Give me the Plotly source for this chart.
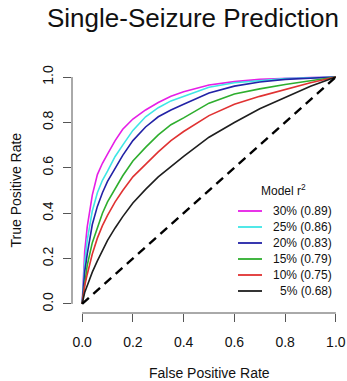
import plotly.graph_objects as go

# ---- data ----
fpr = [0, 0.01, 0.02, 0.04, 0.06, 0.08, 0.10, 0.13, 0.16, 0.20, 0.25, 0.30,
       0.35, 0.40, 0.50, 0.60, 0.70, 0.80, 0.90, 1.0]

tpr_30 = [0, 0.23, 0.34, 0.48, 0.57, 0.62, 0.66, 0.72, 0.77, 0.815, 0.855, 0.888,
          0.915, 0.935, 0.965, 0.98, 0.99, 0.995, 0.998, 1.0]
tpr_25 = [0, 0.18, 0.28, 0.41, 0.49, 0.545, 0.585, 0.65, 0.70, 0.765, 0.825, 0.865,
          0.895, 0.915, 0.955, 0.975, 0.985, 0.993, 0.997, 1.0]
tpr_20 = [0, 0.14, 0.22, 0.35, 0.43, 0.49, 0.54, 0.60, 0.655, 0.72, 0.78, 0.825,
          0.855, 0.88, 0.93, 0.96, 0.978, 0.99, 0.996, 1.0]
tpr_15 = [0, 0.10, 0.17, 0.27, 0.34, 0.40, 0.45, 0.51, 0.565, 0.63, 0.69, 0.745,
          0.79, 0.82, 0.885, 0.925, 0.948, 0.967, 0.985, 1.0]
tpr_10 = [0, 0.08, 0.13, 0.22, 0.29, 0.345, 0.39, 0.45, 0.50, 0.56, 0.615, 0.67,
          0.72, 0.76, 0.83, 0.88, 0.915, 0.945, 0.975, 1.0]
tpr_05 = [0, 0.05, 0.08, 0.14, 0.19, 0.235, 0.28, 0.335, 0.385, 0.445, 0.505, 0.56,
          0.607, 0.65, 0.735, 0.80, 0.86, 0.91, 0.96, 1.0]

series_names = ["30% (0.89)", "25% (0.86)", "20% (0.83)", "15% (0.79)",
                "10% (0.75)", "5% (0.68)"]
series_values = [tpr_30, tpr_25, tpr_20, tpr_15, tpr_10, tpr_05]
series_colors = ["#E61EE6", "#3EE6E6", "#2222A6", "#2EAE2E", "#E03232", "#1E1E1E"]
legend_title = "Model r<sup>2</sup>"

diag = [0.0, 1.0]
tick_vals = [0.0, 0.2, 0.4, 0.6, 0.8, 1.0]
tick_text = ["0.0", "0.2", "0.4", "0.6", "0.8", "1.0"]

FONT = "Liberation Sans, Arial, Helvetica, sans-serif"
W, H = 347, 381
ML, MR, MT, MB = 72, 1, 68, 68
PW, PH = W - ML - MR, H - MT - MB


def px_x(px):
    return (px - ML) / PW


def px_y(py):
    return (H - MB - py) / PH


fig = go.Figure()
for name, vals, col in zip(series_names, series_values, series_colors):
    fig.add_trace(go.Scatter(x=fpr, y=vals, mode="lines", name=name, showlegend=False,
                             line=dict(color=col, width=1.6)))

fig.add_trace(go.Scatter(x=diag, y=diag, mode="lines", showlegend=False,
                         line=dict(color="black", width=2.4, dash="9px,6px")))

axis_common = dict(range=[-0.04, 1.04], tickvals=tick_vals, ticktext=tick_text,
                   ticks="outside", ticklen=8, tickwidth=1, tickcolor="#555555",
                   showgrid=False, zeroline=False, showline=False,
                   tickfont=dict(family=FONT, size=14, color="#111111"))

fig.update_layout(
    width=W, height=H,
    margin=dict(l=ML, r=MR, t=MT, b=MB),
    paper_bgcolor="white", plot_bgcolor="white",
    xaxis=dict(**axis_common, ticklabelstandoff=8),
    yaxis=dict(**axis_common, tickangle=-90, ticklabelstandoff=4),
    title=dict(text="Single-Seizure Prediction", x=0.556, xanchor="center",
               y=1 - 18 / H, yanchor="middle",
               font=dict(family=FONT, size=26, color="#111111")),
    showlegend=False,
)

# R-style axis lines spanning only the tick range
fig.add_shape(type="line", xref="x", yref="paper", x0=tick_vals[0], x1=tick_vals[-1],
              y0=0, y1=0, line=dict(color="#555555", width=1))
fig.add_shape(type="line", xref="paper", yref="y", x0=0, x1=0,
              y0=tick_vals[0], y1=tick_vals[-1], line=dict(color="#555555", width=1))

# legend drawn R-style (title centred, samples left, text right-aligned)
fig.add_annotation(text=legend_title, xref="paper", yref="paper",
                   x=px_x(283), y=px_y(190), xanchor="center", yanchor="middle",
                   showarrow=False, font=dict(family=FONT, size=12, color="#111111"))
for i, (name, col) in enumerate(zip(series_names, series_colors)):
    ry = px_y(211 + 16 * i)
    fig.add_shape(type="line", xref="paper", yref="paper", x0=px_x(238), x1=px_x(262),
                  y0=ry, y1=ry, line=dict(color=col, width=1.8))
    fig.add_annotation(text=name, xref="paper", yref="paper", x=px_x(334), y=ry,
                       xanchor="right", yanchor="middle", showarrow=False,
                       font=dict(family=FONT, size=12, color="#111111"))

fig.add_annotation(text="False Positive Rate", xref="paper", yref="paper",
                   x=px_x(209), y=px_y(373), xanchor="center", yanchor="middle",
                   showarrow=False, font=dict(family=FONT, size=14, color="#111111"))
fig.add_annotation(text="True Positive Rate", xref="paper", yref="paper",
                   x=px_x(15), y=0.5, xanchor="center", yanchor="middle", showarrow=False,
                   textangle=-90, font=dict(family=FONT, size=14, color="#111111"))

fig.write_html("out.html")
